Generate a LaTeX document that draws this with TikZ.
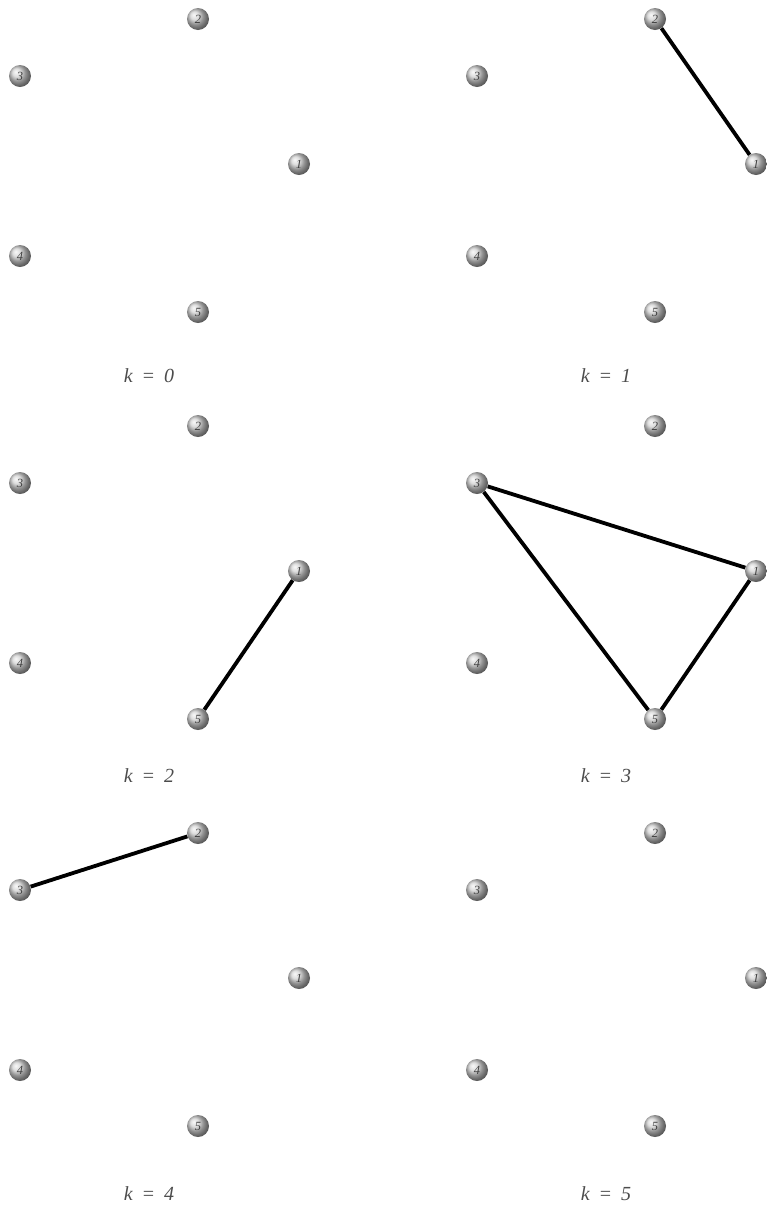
\documentclass[tikz,border=0pt]{standalone}
\usepackage{fontspec}
\setmainfont{Liberation Serif}
\begin{document}
\begin{tikzpicture}[x=1pt,y=-1pt,
  ball/.style={circle,minimum size=22pt,inner sep=0pt,shading=ball,ball color=gray!35,
    text=black!75,font=\fontsize{12.5}{12.5}\selectfont\itshape},
  edge/.style={line width=3.8pt,black},
  klabel/.style={text=black!70,font=\fontsize{20}{20}\selectfont\itshape}]
\useasboundingbox (0,0) rectangle (767,1211);
\clip (0,0) rectangle (767,1211);
\foreach \k/\dx/\dy/\ly in {0/0/0/376,1/457/0/376,2/0/407/776,3/457/407/776,4/0/814/1194,5/457/814/1194}{
  \begin{scope}[shift={(\dx,\dy)}]
    \node[ball] (p\k n1) at (299,164) {1};
    \node[ball] (p\k n2) at (198,19) {2};
    \node[ball] (p\k n3) at (20,76) {3};
    \node[ball] (p\k n4) at (20,256) {4};
    \node[ball] (p\k n5) at (198,312) {5};
  \end{scope}
  \node[klabel] (lab\k) at (149+\dx,\ly) {k\hspace{0.45em}=\hspace{0.45em}\k};
}
\draw[edge] (p1n2) -- (p1n1);
\draw[edge] (p2n1) -- (p2n5);
\draw[edge] (p3n3) -- (p3n1);
\draw[edge] (p3n3) -- (p3n5);
\draw[edge] (p3n5) -- (p3n1);
\draw[edge] (p4n3) -- (p4n2);
\end{tikzpicture}
\end{document}
